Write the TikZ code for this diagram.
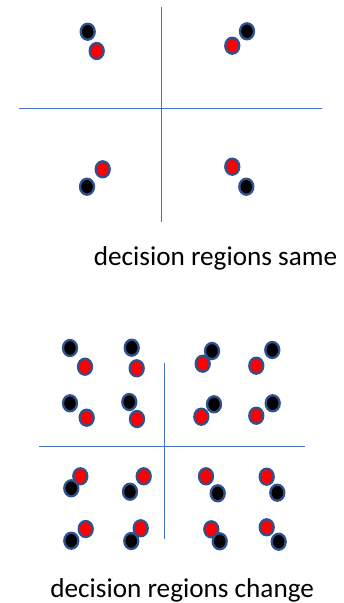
\documentclass[tikz,border=0pt]{standalone}
\usepackage{fontspec}
\setmainfont{Carlito}
\usetikzlibrary{shapes.geometric}
\definecolor{axisblue}{RGB}{68,114,196}
\definecolor{rimblue}{RGB}{47,82,143}
\tikzset{
  dot/.style={ellipse,draw=rimblue,line width=2.3pt,inner sep=0pt,minimum width=14pt,minimum height=16pt},
  blk/.style={dot,fill=black},
  rd/.style={dot,fill=red},
  axis/.style={draw=axisblue,line width=1pt},
  caption/.style={font=\fontsize{27.2}{32}\selectfont,anchor=base,inner sep=0pt}
}
\begin{document}
\begin{tikzpicture}[x=1pt,y=-1pt]
  \useasboundingbox (0,0) rectangle (344,603);
  % upper panel
  \coordinate (uN) at (161.3,7);  \coordinate (uS) at (161.3,222);
  \coordinate (uW) at (19,108.7); \coordinate (uE) at (322,108.7);
  \draw[axis] (uN)--(uS);
  \draw[axis] (uW)--(uE);
  \foreach \bx/\by/\rx/\ry [count=\k] in {87.7/31.7/96.7/51, 247/31.3/232.3/45.7}{
    \node[blk] (ub\k) at (\bx,\by) {};
    \node[rd] (ur\k) at (\rx,\ry) {};
  }
  \foreach \rx/\ry/\bx/\by [count=\k from 3] in {102.7/169.3/87/186.7, 232.3/166.7/246.3/186.7}{
    \node[rd] (ur\k) at (\rx,\ry) {};
    \node[blk] (ub\k) at (\bx,\by) {};
  }
  \node[caption] (ucap) at (215.5,265) {decision regions same};
  % lower panel
  \coordinate (lN) at (164,363.3);  \coordinate (lS) at (164,539);
  \coordinate (lW) at (39.3,446.7); \coordinate (lE) at (305.3,446.7);
  \draw[axis] (lN)--(lS);
  \draw[axis] (lW)--(lE);
  \foreach \bx/\by/\rx/\ry [count=\k] in {
      70/348/85/366.7, 131.7/347.7/136.7/368.3, 212/351/202.7/363.7, 272.3/350/256.3/365.7,
      70/403.3/86.7/417.7, 129.3/402/137/419, 214/404.3/201.3/416.7, 272.7/403.3/256.3/415.7}{
    \node[blk] (lb\k) at (\bx,\by) {};
    \node[rd] (lr\k) at (\rx,\ry) {};
  }
  \foreach \rx/\ry/\bx/\by [count=\k from 9] in {
      80.3/476.3/71.3/488.3, 143.7/476.3/130/491.7, 206/476.3/217.7/493.3, 266.7/476.7/277.3/492.7,
      85.7/529/71.3/540.7, 140.7/528.3/131.3/541, 211.3/529.3/219.7/541.3, 266.7/527.3/278.7/541.7}{
    \node[rd] (lr\k) at (\rx,\ry) {};
    \node[blk] (lb\k) at (\bx,\by) {};
  }
  \node[caption] (lcap) at (182.2,597) {decision regions change};
\end{tikzpicture}
\end{document}
